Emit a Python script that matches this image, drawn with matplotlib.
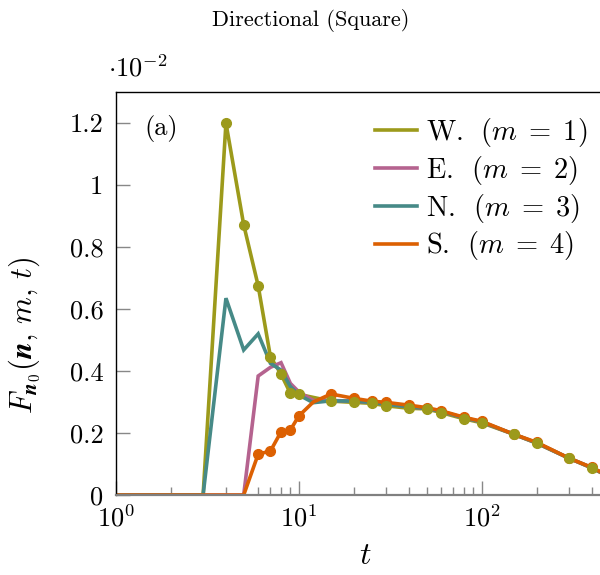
import matplotlib
matplotlib.use("Agg")
import matplotlib.pyplot as plt
from matplotlib.ticker import FixedLocator, LogLocator, NullFormatter

plt.rcParams['font.family'] = ['cmr10', 'DejaVu Serif']
plt.rcParams['mathtext.fontset'] = 'cm'
plt.rcParams['axes.formatter.use_mathtext'] = True

t = [1, 2, 3, 4, 5, 6, 7, 8, 9, 10, 12, 15, 20, 25, 30, 40, 50, 60, 80, 100, 150, 200, 300, 400, 500]
west = [0, 0, 0, 1.200, 0.872, 0.675, 0.446, 0.390, 0.328, 0.325, 0.315, 0.303, 0.299, 0.296, 0.288,
        0.280, 0.278, 0.266, 0.246, 0.233, 0.196, 0.167, 0.119, 0.087, 0.058]
east = [0, 0, 0, 0, 0, 0.384, 0.412, 0.427, 0.360, 0.333, 0.305, 0.305, 0.303, 0.299, 0.293,
        0.285, 0.279, 0.270, 0.249, 0.236, 0.196, 0.168, 0.119, 0.088, 0.059]
north = [0, 0, 0, 0.635, 0.468, 0.520, 0.425, 0.403, 0.350, 0.323, 0.298, 0.304, 0.303, 0.299, 0.293,
         0.285, 0.279, 0.270, 0.249, 0.236, 0.196, 0.168, 0.119, 0.088, 0.059]
south = [0, 0, 0, 0, 0, 0.132, 0.142, 0.204, 0.210, 0.255, 0.300, 0.326, 0.312, 0.303, 0.299,
         0.290, 0.282, 0.272, 0.251, 0.238, 0.196, 0.170, 0.119, 0.089, 0.060]
labels = [r'W. $\ (m \;=\; 1)$', r'E. $\ (m \;=\; 2)$', r'N. $\ (m \;=\; 3)$', r'S. $\ (m \;=\; 4)$']
colors = ['#9c9a1b', '#b5638f', '#468a87', '#dc6002']
yticks = [0, 0.2, 0.4, 0.6, 0.8, 1.0, 1.2]
ytick_labels = ['0', '0.2', '0.4', '0.6', '0.8', '1', '1.2']

west_marks = [i for i in range(3, len(t)) if t[i] != 12]
south_marks = [i for i in range(5, len(t)) if t[i] != 12]

fig = plt.figure(figsize=(6.0, 5.75), dpi=100)
ax = fig.add_axes([0.193, 0.139, 0.807, 0.701])

lw = 2.6
handles = []
for y, c, lab in zip([west, east, north, south], colors, labels):
    h, = ax.plot(t, y, color=c, lw=lw, solid_joinstyle='miter', label=lab, zorder=2)
    handles.append(h)
ax.plot(t, south, color=colors[3], lw=0, marker='o', ms=7, markevery=south_marks, zorder=3)
ax.plot(t, west, color=colors[0], lw=0, marker='o', ms=7, markevery=west_marks, zorder=4)

ax.set_xscale('log')
ax.set_xlim(1, 443)
ax.set_ylim(0, 1.3)
ax.yaxis.set_major_locator(FixedLocator(yticks))
ax.set_yticklabels(ytick_labels)
ax.xaxis.set_major_locator(LogLocator(base=10, numticks=10))
ax.xaxis.set_minor_locator(LogLocator(base=10, subs=range(2, 10), numticks=20))
ax.xaxis.set_minor_formatter(NullFormatter())

ax.tick_params(axis='both', which='both', direction='in', colors='#888888', labelcolor='black',
               labelsize=19)
ax.tick_params(axis='x', which='major', length=10, width=1.0, pad=7)
ax.tick_params(axis='x', which='minor', length=6, width=1.0)
ax.tick_params(axis='y', which='major', length=10, width=1.0, pad=9)
ax.tick_params(axis='y', which='minor', length=0)

ax.spines['right'].set_visible(False)
ax.spines['left'].set_color('black')
ax.spines['top'].set_color('black')
ax.spines['bottom'].set_color('#808080')
ax.spines['bottom'].set_linewidth(1.6)
for s in ['left', 'top']:
    ax.spines[s].set_linewidth(1.0)

ax.set_xlabel('$t$', fontsize=23)
ax.xaxis.set_label_coords((365 - 116) / 484, -0.118)
ax.set_ylabel(r'$F_{\boldsymbol{n}_0}(\boldsymbol{n},\, m,\, t)$', fontsize=22)
ax.yaxis.set_label_coords((43 - 116) / 484, (495 - 335) / 403)

ax.text((145 - 116) / 484, (495 - 128) / 403, '(a)', transform=ax.transAxes, fontsize=19,
        va='center', ha='left')

leg = ax.legend(handles=handles, loc='upper right', bbox_to_anchor=(1.015, 0.99), frameon=False,
                fontsize=20.5, handlelength=1.5, handletextpad=0.3, labelspacing=0.17,
                borderaxespad=0.3)

fig.text(311 / 600, 1 - 20 / 575, 'Directional (Square)', ha='center', va='center', fontsize=16)
fig.text(108 / 600, 1 - 68 / 575, r'$\cdot 10^{-2}$', ha='left', va='center', fontsize=19)

fig.savefig('out.png', dpi=100)
